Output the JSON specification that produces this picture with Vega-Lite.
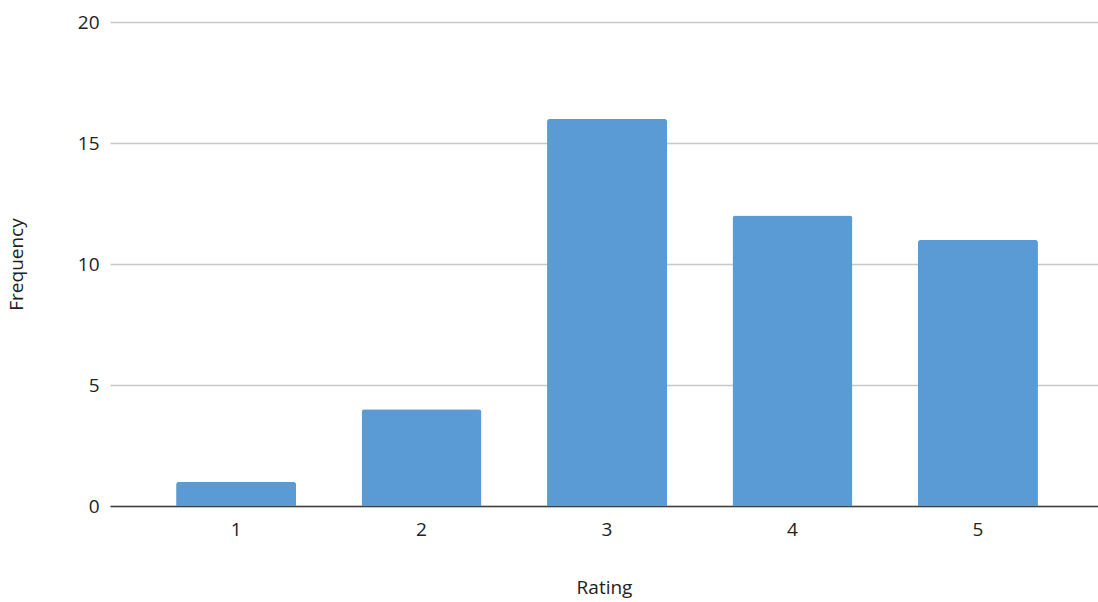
{
  "$schema": "https://vega.github.io/schema/vega-lite/v6.json",
  "width": 988,
  "height": 484,
  "autosize": {"type": "none"},
  "padding": {"left": 110, "top": 22, "right": 0, "bottom": 96},
  "background": "white",
  "config": {"view": {"stroke": null}, "font": "Open Sans"},
  "data": {"values": [
    {"Rating": "1", "Frequency": 1},
    {"Rating": "2", "Frequency": 4},
    {"Rating": "3", "Frequency": 16},
    {"Rating": "4", "Frequency": 12},
    {"Rating": "5", "Frequency": 11}
  ]},
  "mark": {"type": "bar", "color": "#5b9bd5", "cornerRadiusTopLeft": 3, "cornerRadiusTopRight": 3},
  "encoding": {
    "x": {
      "field": "Rating", "type": "ordinal",
      "scale": {"paddingInner": 0.353, "paddingOuter": 0.34, "align": 0.524},
      "axis": {
        "labelAngle": 0, "labelFontSize": 19, "labelColor": "#222222", "labelPadding": 14,
        "ticks": false, "domainColor": "#404040", "domainWidth": 1.5,
        "title": "Rating", "titleFontSize": 19, "titleFontWeight": "normal", "titleColor": "#222222", "titlePadding": 39
      }
    },
    "y": {
      "field": "Frequency", "type": "quantitative",
      "scale": {"domain": [0, 20]},
      "axis": {
        "values": [0, 5, 10, 15, 20], "labelFontSize": 19, "labelColor": "#222222", "labelPadding": 11,
        "ticks": false, "domain": false, "gridColor": "#c8c8c8", "gridWidth": 1.5,
        "title": "Frequency", "titleFontSize": 19, "titleFontWeight": "normal", "titleColor": "#222222", "titlePadding": 51
      }
    }
  }
}
